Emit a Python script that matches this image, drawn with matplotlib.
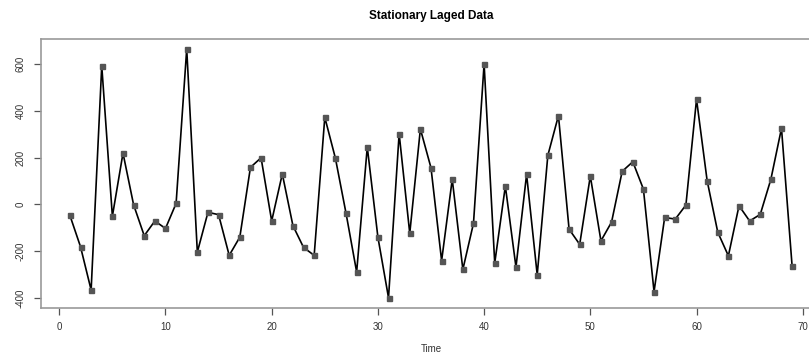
import matplotlib
matplotlib.use("Agg")
import matplotlib.pyplot as plt

# Lagged series values, t = 1..69
time_idx = list(range(1, 70))
values = [-47, -181, -366, 592, -51, 219, -2, -134, -71, -103,
          4, 664, -204, -34, -44, -218, -140, 158, 199, -71,
          130, -91, -184, -218, 372, 197, -38, -289, 245, -140,
          -399, 302, -124, 322, 156, -241, 107, -278, -81, 600,
          -251, 78, -268, 128, -301, 209, 379, -106, -171, 121,
          -156, -76, 141, 182, 65, -373, -56, -63, -3, 449,
          101, -119, -220, -6, -71, -43, 107, 325, -264]
x_ticks = [0, 10, 20, 30, 40, 50, 60, 70]
y_ticks = [-400, -200, 0, 200, 400, 600]

plt.rcParams['font.family'] = ['Liberation Sans', 'DejaVu Sans']

fig = plt.figure(figsize=(8.09, 3.58), dpi=100)
ax = fig.add_axes([41 / 809, 50.3 / 358, 780 / 809, 268.7 / 358])

ax.plot(time_idx, values, color='black', linewidth=1.2, marker='s',
        markersize=3.6, markerfacecolor='#555555', markeredgecolor='#555555')

# R-style 4% padding on each side
xr = max(time_idx) - min(time_idx)
yr = max(values) - min(values)
ax.set_xlim(min(time_idx) - 0.04 * xr, max(time_idx) + 0.04 * xr)
ax.set_ylim(min(values) - 0.04 * yr, max(values) + 0.04 * yr)

ax.set_xticks(x_ticks)
ax.set_yticks(y_ticks)
ax.set_yticklabels([str(v) for v in y_ticks], rotation=90, va='center')

for s in ax.spines.values():
    s.set_color('#999999')
    s.set_linewidth(1.2)

ax.tick_params(axis='x', direction='out', length=5, width=0.9,
               color='#555555', labelsize=7, labelcolor='#333333', pad=5)
ax.tick_params(axis='y', direction='out', length=5, width=0.9,
               color='#555555', labelsize=7, labelcolor='#333333', pad=6)

ax.set_xlabel('Time', fontsize=7, color='#333333', labelpad=9)
ax.set_title('Stationary Laged Data', fontsize=8.5, fontweight='bold', pad=14.5)

fig.savefig('out.png', dpi=100)
